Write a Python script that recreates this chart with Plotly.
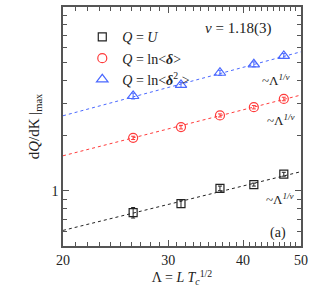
import plotly.graph_objects as go

# data
lam = [26.2, 31.5, 36.6, 41.7, 46.8]
q_U = [0.76, 0.85, 1.03, 1.08, 1.23]
q_U_err = [0.05, 0.04, 0.03, 0.02, 0.03]
q_lnd = [1.94, 2.22, 2.57, 2.85, 3.16]
q_lnd_err = [0.04, 0.05, 0.05, 0.06, 0.07]
q_lnd2 = [3.28, 3.77, 4.39, 4.88, 5.42]
q_lnd2_err = [0.12, 0.12, 0.14, 0.15, 0.16]

fit_x = [20, 50]
fit_U = [0.608, 1.27]
fit_lnd = [1.55, 3.32]
fit_lnd2 = [2.56, 5.71]

x_ticks = [20, 30, 40, 50]
y_ticks = [1, 10]

FONT = "Liberation Serif"
BLACK = "#222222"
RED = "#ff3b3b"
BLUE = "#4a68ff"

fig = go.Figure()

# fit lines
for fy, col in [(fit_U, BLACK), (fit_lnd, RED), (fit_lnd2, BLUE)]:
    fig.add_trace(go.Scatter(x=fit_x, y=fy, mode="lines",
                             line=dict(color=col, width=1, dash="dot"),
                             showlegend=False, hoverinfo="skip"))

series = [
    (q_U, q_U_err, BLACK, "square-open", 8, "<i>Q</i> = <i>U</i>"),
    (q_lnd, q_lnd_err, RED, "circle-open", 9, "<i>Q</i> = ln<<b><i>δ</i></b>>"),
    (q_lnd2, q_lnd2_err, BLUE, "triangle-up-open", 10, "<i>Q</i> = ln<<b><i>δ</i></b><sup>2</sup> >"),
]
for ys, es, col, sym, sz, name in series:
    fig.add_trace(go.Scatter(x=lam, y=ys, mode="markers", name=name,
                             marker=dict(symbol=sym, size=sz, color=col,
                                         line=dict(width=1.2, color=col)),
                             error_y=dict(type="data", array=es, color=col,
                                          thickness=1, width=2)))

axis_common = dict(type="log", showgrid=False, zeroline=False, automargin=False,
                   showline=True, linecolor="#555555", linewidth=1.5,
                   mirror="allticks", ticks="inside", ticklen=6,
                   tickcolor="#555555", tickwidth=1.2,
                   tickfont=dict(family=FONT, size=14, color=BLACK))

fig.update_xaxes(**axis_common,
                 range=[1.30100, 1.69900],
                 tickvals=x_ticks, ticktext=[str(v) for v in x_ticks],
                 minor=dict(tickvals=[v for v in range(21, 50) if v % 10 != 0],
                            ticks="inside", ticklen=4, tickcolor="#555555", tickwidth=1),
                 title=dict(text="Λ = <i>L T<sub>c</sub></i><sup>1/2</sup>",
                            font=dict(family=FONT, size=14, color=BLACK), standoff=4))
fig.update_yaxes(**axis_common,
                 range=[-0.30103, 1.0005],
                 tickvals=y_ticks, ticktext=[str(v) for v in y_ticks],
                 minor=dict(tickvals=[0.5, 0.6, 0.7, 0.8, 0.9, 2, 3, 4, 5, 6, 7, 8, 9],
                            ticks="inside", ticklen=4, tickcolor="#555555", tickwidth=1),
                 title=dict(text="d<i>Q</i>/dK |<sub>max</sub>",
                            font=dict(family=FONT, size=15, color=BLACK), standoff=8))

annots = [
    (0.59, 0.954, "<i>ν</i> = 1.18(3)", 15),
    (0.828, 0.736, "~Λ<sup><i>1/ν</i></sup>", 13),
    (0.849, 0.569, "~Λ<sup><i>1/ν</i></sup>", 13),
    (0.845, 0.24, "~Λ<sup><i>1/ν</i></sup>", 13),
    (0.861, 0.095, "(a)", 14),
]
for ax, ay, txt, fs in annots:
    fig.add_annotation(x=ax, y=ay, xref="paper", yref="paper", text=txt,
                       xanchor="left", yanchor="top",
                       showarrow=False, font=dict(family=FONT, size=fs, color=BLACK))

fig.update_layout(
    width=316, height=292,
    margin=dict(l=63, r=15, t=7, b=46),
    paper_bgcolor="white", plot_bgcolor="white",
    font=dict(family=FONT, size=14, color=BLACK),
    legend=dict(x=0.081, y=0.94, xanchor="left", yanchor="top",
                bgcolor="rgba(0,0,0,0)", font=dict(family=FONT, size=14, color=BLACK),
                tracegroupgap=0, itemwidth=30),
    showlegend=True,
)

fig.write_html("out.html", config={"displayModeBar": False},
               post_script="document.body.style.margin='0';document.body.style.overflow='hidden';")
